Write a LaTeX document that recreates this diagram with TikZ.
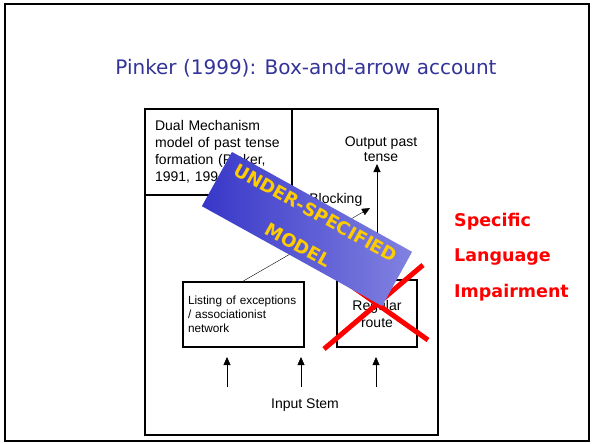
\documentclass[tikz,border=0pt]{standalone}
\usepackage{fontspec}
\setmainfont{Liberation Sans}
\newfontfamily\slidefont{DejaVu Sans}
\usetikzlibrary{arrows.meta}

\definecolor{titleblue}{RGB}{51,51,153}
\definecolor{bandleft}{RGB}{55,55,200}
\definecolor{bandright}{RGB}{130,130,225}
\definecolor{bandtext}{RGB}{255,204,0}

\def\sY{387}
\def\tY{357}
\def\bW{2.2pt}

\begin{document}
\begin{tikzpicture}[x=1pt, y=-1pt, >={Triangle[length=8pt,width=7pt]},
                    font=\fontsize{14}{17}\selectfont]
    \useasboundingbox (0,0) rectangle (594,444);
    \draw[line width=1.5pt] (5,4) rectangle (589,441);

    \node[text=titleblue, font=\slidefont\fontsize{20}{24}\selectfont] (Title) at (306,68) {Pinker (1999): Box-and-arrow account};

    %%   (lable)  (x, y)     {\text}
    \coordinate (CB) at (370,208);

    \coordinate (S1) at (227,\sY);
    \coordinate (S2) at (301,\sY);
    \coordinate (S3) at (376,\sY);

    \coordinate (E1) at (227,\tY);
    \coordinate (E2) at (301,\tY);
    \coordinate (E3) at (376,\tY);

    \coordinate (X1) at (324,349);
    \coordinate (X2) at (423,265);
    \coordinate (X3) at (326,268);
    \coordinate (X4) at (428,340);

    \node[shape=rectangle,draw=black,line width=\bW, minimum width=293pt, minimum height=326pt, anchor=north west] (Box) at (144,108) {};

    \node[shape=rectangle,draw=black,line width=\bW, minimum width=147pt, minimum height=86pt, anchor=north west,
          text width=127pt, inner xsep=10pt, align=left] (Dual) at (144,108) {Dual Mechanism\\model of past tense\\formation (Pinker,\\1991, 1994)};

    \node[shape=rectangle,draw=black,line width=\bW, minimum width=121pt, minimum height=65pt,
          text width=111pt, inner xsep=5pt, align=left, font=\fontsize{11.8}{14}\selectfont] (List) at (243.5,314.5) {Listing of exceptions\\/ associationist\\network};

    \node[shape=rectangle,draw=black,line width=\bW, minimum width=80pt, minimum height=67pt, align=center] (Reg) at (377,313.5) {Regular\\route};

    \node[align=center, anchor=south, inner sep=2pt, font=\fontsize{14}{15}\selectfont] (Out) at (381,164) {Output past\\tense};

    \node (Stem) at (305,405) {Input Stem};

    \node[anchor=west, inner sep=2pt, align=left, text=red, font=\slidefont\bfseries\fontsize{17.5}{35.5}\selectfont] (SLI) at (452,257) {Specific\\Language\\Impairment};

    \path[->, line width=1pt] (Reg) edge (Reg.north |- Out.south);
    \path[->] (List.north) edge node[pos=0.73, above=18pt] {Blocking} (CB);

    \path[->] (S1) edge (E1);
    \path[->] (S2) edge (E2);
    \path[->] (S3) edge (E3);

    \draw[red, line width=5pt] (X1) -- (X2);
    \draw[red, line width=5pt] (X3) -- (X4);

    \node[shape=rectangle, rotate=-29, minimum width=206pt, minimum height=62pt,
          left color=bandleft, right color=bandright, text=bandtext, align=center,
          font=\slidefont\bfseries\fontsize{18}{37}\selectfont] (Band) at (307,229) {UNDER-SPECIFIED\\MODEL};
\end{tikzpicture}
\end{document}
